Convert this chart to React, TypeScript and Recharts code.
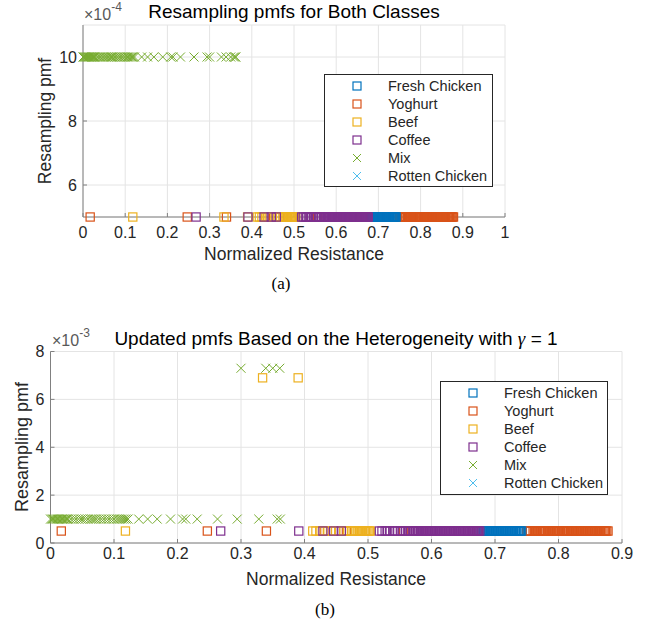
import React from 'react'
import { ScatterChart, Scatter, XAxis, YAxis, CartesianGrid } from 'recharts'

const FONT = "'Liberation Sans', Arial, Helvetica, sans-serif"
const SERIF = "'Liberation Serif', 'Times New Roman', serif"

const BLUE = '#0072BD'
const ORANGE = '#D95319'
const YELLOW = '#EDB120'
const PURPLE = '#7E2F8E'
const GREEN = '#77AC30'
const CYAN = '#4DBEEE'

// normalized resistance of the samples of each class
const freshChickenX = [
  0.678, 0.680, 0.682, 0.684, 0.686, 0.688, 0.690, 0.692, 0.694, 0.696, 0.698, 0.700,
  0.702, 0.704, 0.706, 0.708, 0.710, 0.712, 0.714, 0.716, 0.718, 0.720, 0.722, 0.724,
  0.726, 0.728, 0.730, 0.732, 0.734, 0.736, 0.738, 0.740, 0.742,
]
const yoghurtX = [
  0.017, 0.247, 0.340, 0.432, 0.466, 0.556,
  0.750, 0.752, 0.754, 0.756, 0.760, 0.762, 0.764, 0.766, 0.770, 0.772, 0.774, 0.776,
  0.778, 0.780, 0.782, 0.784, 0.786, 0.788, 0.790, 0.792, 0.794, 0.796, 0.798, 0.800,
  0.802, 0.806, 0.808, 0.810, 0.812, 0.814, 0.816, 0.818, 0.820, 0.822, 0.824, 0.826,
  0.828, 0.830, 0.832, 0.834, 0.836, 0.838, 0.840, 0.842, 0.844, 0.846, 0.848, 0.850,
  0.852, 0.854, 0.856, 0.858, 0.860, 0.862, 0.864, 0.866, 0.868, 0.870, 0.872, 0.874,
  0.876, 0.878,
]
const beefX = [
  0.118, 0.413, 0.418, 0.424, 0.436, 0.441, 0.449, 0.455, 0.462, 0.468, 0.474, 0.478,
  0.481, 0.484, 0.486, 0.488, 0.490, 0.492, 0.494, 0.496, 0.498, 0.500, 0.502, 0.504,
]
const coffeeX = [
  0.268, 0.391, 0.429, 0.446, 0.458,
  0.518, 0.522, 0.527, 0.530, 0.534, 0.539, 0.542, 0.546, 0.551, 0.554, 0.559, 0.562, 0.566,
  0.570, 0.572, 0.574, 0.576, 0.578, 0.580, 0.582, 0.584, 0.586, 0.588, 0.590, 0.592,
  0.594, 0.596, 0.598, 0.600, 0.602, 0.604, 0.606, 0.608, 0.610, 0.612, 0.614, 0.616,
  0.618, 0.620, 0.622, 0.624, 0.626, 0.628, 0.630, 0.632, 0.634, 0.636, 0.638, 0.640,
  0.642, 0.644, 0.646, 0.648, 0.650, 0.652, 0.654, 0.656, 0.658, 0.660, 0.662, 0.664,
  0.666, 0.668, 0.670, 0.672, 0.674, 0.676,
]
const mixX = [
  0, 0.002, 0.004, 0.006, 0.008, 0.010, 0.012, 0.014, 0.016, 0.018, 0.020, 0.022, 0.024,
  0.026, 0.028, 0.032, 0.036, 0.040, 0.044, 0.048, 0.051, 0.055, 0.059, 0.063, 0.066,
  0.069, 0.072, 0.076, 0.080, 0.084, 0.088, 0.092, 0.096, 0.100, 0.104, 0.107, 0.110,
  0.113, 0.116, 0.119, 0.122, 0.139, 0.153, 0.168, 0.189, 0.208, 0.213, 0.231, 0.263,
  0.294, 0.328, 0.357, 0.362,
]
const rottenChickenX: number[] = []

// samples whose pmf is raised by the heterogeneity update in (b)
const mixHighX = [0.300, 0.339, 0.350, 0.361]
const beefHighX = [0.334, 0.390]

// pmf levels
const pmfSquareA = 0.0005
const pmfMixA = 0.001
const pmfSquareB = 0.0005
const pmfMixB = 0.001
const pmfMixHighB = 0.0073
const pmfBeefHighB = 0.0069

// axes
const xTicksA = [0, 0.1, 0.2, 0.3, 0.4, 0.5, 0.6, 0.7, 0.8, 0.9, 1]
const yTicksA = [0.0006, 0.0008, 0.001]
const xTicksB = [0, 0.1, 0.2, 0.3, 0.4, 0.5, 0.6, 0.7, 0.8, 0.9]
const yTicksB = [0, 0.002, 0.004, 0.006, 0.008]

const legendItems = [
  { name: 'Fresh Chicken', color: BLUE, mark: 'square' },
  { name: 'Yoghurt', color: ORANGE, mark: 'square' },
  { name: 'Beef', color: YELLOW, mark: 'square' },
  { name: 'Coffee', color: PURPLE, mark: 'square' },
  { name: 'Mix', color: GREEN, mark: 'cross' },
  { name: 'Rotten Chicken', color: CYAN, mark: 'cross' },
]

type Pt = { x: number; y: number }
const at = (xs: number[], y: number): Pt[] => xs.map((x) => ({ x, y }))

function SquareMark({ cx, cy, color, size = 8.2 }: { cx: number; cy: number; color: string; size?: number }) {
  const h = size / 2
  return <rect x={cx - h} y={cy - h} width={size} height={size} fill="none" stroke={color} strokeWidth={1.2} />
}

function CrossMark({ cx, cy, color, size = 9 }: { cx: number; cy: number; color: string; size?: number }) {
  const h = size / 2
  return (
    <path
      d={`M${cx - h},${cy - h}L${cx + h},${cy + h}M${cx - h},${cy + h}L${cx + h},${cy - h}`}
      stroke={color}
      strokeWidth={1}
      fill="none"
    />
  )
}

interface SeriesDef {
  name: string
  color: string
  mark: string
  data: Pt[]
}

interface PanelProps {
  height: number
  margin: { top: number; right: number; bottom: number; left: number }
  yAxisWidth: number
  xDomain: [number, number]
  xTicks: number[]
  yDomain: [number, number]
  yTicks: number[]
  yScale: number
  xTickMargin: number
  series: SeriesDef[]
}

const axisColor = '#808080'
const tickStyle = { fontSize: 16, fill: '#262626', fontFamily: FONT }

function Panel(p: PanelProps) {
  return (
    <ScatterChart width={662} height={p.height} margin={p.margin}>
      <CartesianGrid stroke="#e4e4e4" />
      <XAxis
        type="number"
        dataKey="x"
        domain={p.xDomain}
        ticks={p.xTicks}
        height={83}
        tick={tickStyle}
        tickFormatter={(v: number) => String(Math.round(v * 10) / 10)}
        axisLine={{ stroke: axisColor }}
        tickLine={{ stroke: axisColor }}
        tickSize={-4}
        tickMargin={p.xTickMargin}
      />
      <YAxis
        type="number"
        dataKey="y"
        domain={p.yDomain}
        ticks={p.yTicks}
        width={p.yAxisWidth}
        tick={tickStyle}
        tickFormatter={(v: number) => String(Math.round(v * p.yScale))}
        axisLine={{ stroke: axisColor }}
        tickLine={{ stroke: axisColor }}
        tickSize={-4}
        tickMargin={10}
      />
      {p.series.map((s, i) => (
        <Scatter
          key={s.name + i}
          name={s.name}
          data={s.data}
          fill={s.color}
          isAnimationActive={false}
          shape={(props: any) =>
            s.mark === 'square' ? (
              <SquareMark cx={props.cx} cy={props.cy} color={s.color} />
            ) : (
              <CrossMark cx={props.cx} cy={props.cy} color={s.color} />
            )
          }
        />
      ))}
    </ScatterChart>
  )
}

// drawing order: yoghurt under fresh chicken, coffee on top of both
const seriesA: SeriesDef[] = [
  { name: 'Yoghurt', color: ORANGE, mark: 'square', data: at(yoghurtX, pmfSquareA) },
  { name: 'Fresh Chicken', color: BLUE, mark: 'square', data: at(freshChickenX, pmfSquareA) },
  { name: 'Beef', color: YELLOW, mark: 'square', data: at([...beefX, ...beefHighX], pmfSquareA) },
  { name: 'Coffee', color: PURPLE, mark: 'square', data: at(coffeeX, pmfSquareA) },
  { name: 'Mix', color: GREEN, mark: 'cross', data: at([...mixX, ...mixHighX], pmfMixA) },
  { name: 'Rotten Chicken', color: CYAN, mark: 'cross', data: at(rottenChickenX, pmfMixA) },
]

const seriesB: SeriesDef[] = [
  { name: 'Yoghurt', color: ORANGE, mark: 'square', data: at(yoghurtX, pmfSquareB) },
  { name: 'Fresh Chicken', color: BLUE, mark: 'square', data: at(freshChickenX, pmfSquareB) },
  { name: 'Beef', color: YELLOW, mark: 'square', data: [...at(beefX, pmfSquareB), ...at(beefHighX, pmfBeefHighB)] },
  { name: 'Coffee', color: PURPLE, mark: 'square', data: at(coffeeX, pmfSquareB) },
  { name: 'Mix', color: GREEN, mark: 'cross', data: [...at(mixX, pmfMixB), ...at(mixHighX, pmfMixHighB)] },
  { name: 'Rotten Chicken', color: CYAN, mark: 'cross', data: at(rottenChickenX, pmfMixB) },
]

function LegendBox({ x, y, w, h, markX, textX }: { x: number; y: number; w: number; h: number; markX: number; textX: number }) {
  return (
    <g>
      <rect x={x} y={y} width={w} height={h} fill="#fff" stroke="#262626" strokeWidth={1} />
      {legendItems.map((it, i) => {
        const cy = y + 11.5 + i * 18
        return (
          <g key={it.name}>
            {it.mark === 'square' ? (
              <SquareMark cx={markX} cy={cy} color={it.color} size={8} />
            ) : (
              <CrossMark cx={markX} cy={cy} color={it.color} size={8} />
            )}
            <text x={textX} y={cy + 5} fontSize={14.5} fill="#262626" fontFamily={FONT}>
              {it.name}
            </text>
          </g>
        )
      })}
    </g>
  )
}

export default function App() {
  return (
    <div style={{ position: 'absolute', left: 0, top: 0, width: 662, height: 626, background: '#fff' }}>
      <div style={{ position: 'absolute', left: 0, top: 0 }}>
        <Panel
          height={300}
          margin={{ top: 25, right: 157, bottom: 0, left: 0 }}
          yAxisWidth={83}
          xDomain={[0, 1]}
          xTicks={xTicksA}
          yDomain={[0.0005, 0.0011]}
          yTicks={yTicksA}
          yScale={1e4}
          xTickMargin={14}
          series={seriesA}
        />
      </div>
      <div style={{ position: 'absolute', left: 0, top: 300 }}>
        <Panel
          height={326}
          margin={{ top: 51.5, right: 40, bottom: 0, left: 0 }}
          yAxisWidth={50.5}
          xDomain={[0, 0.9]}
          xTicks={xTicksB}
          yDomain={[0, 0.008]}
          yTicks={yTicksB}
          yScale={1e3}
          xTickMargin={9}
          series={seriesB}
        />
      </div>
      <svg width={662} height={626} style={{ position: 'absolute', left: 0, top: 0, pointerEvents: 'none' }}>
        {/* panel (a) */}
        <text x={294} y={18} textAnchor="middle" fontSize={19} fill="#000" fontFamily={FONT}>
          Resampling pmfs for Both Classes
        </text>
        <text x={84} y={20} fontSize={16} fill="#595959" fontFamily={FONT}>
          ×10<tspan dy={-9} fontSize={12}>-4</tspan>
        </text>
        <text transform="translate(51,121) rotate(-90)" textAnchor="middle" fontSize={17.5} fill="#262626" fontFamily={FONT}>
          Resampling pmf
        </text>
        <text x={294} y={260} textAnchor="middle" fontSize={17.5} fill="#262626" fontFamily={FONT}>
          Normalized Resistance
        </text>
        <LegendBox x={324.5} y={74.5} w={168} h={112} markX={357} textX={388} />
        <text x={281} y={289} textAnchor="middle" fontSize={17} fill="#000" fontFamily={SERIF}>
          (a)
        </text>

        {/* panel (b) */}
        <text x={336} y={345} textAnchor="middle" fontSize={19} fill="#000" fontFamily={FONT}>
          Updated pmfs Based on the Heterogeneity with <tspan fontFamily={SERIF} fontStyle="italic">γ</tspan> = 1
        </text>
        <text x={52} y={346} fontSize={16} fill="#595959" fontFamily={FONT}>
          ×10<tspan dy={-9} fontSize={12}>-3</tspan>
        </text>
        <text transform="translate(28,447) rotate(-90)" textAnchor="middle" fontSize={18} fill="#262626" fontFamily={FONT}>
          Resampling pmf
        </text>
        <text x={336} y={585} textAnchor="middle" fontSize={17.5} fill="#262626" fontFamily={FONT}>
          Normalized Resistance
        </text>
        <LegendBox x={440.5} y={381.5} w={167} h={113} markX={473} textX={504} />
        <text x={325} y={615} textAnchor="middle" fontSize={17} fill="#000" fontFamily={SERIF}>
          (b)
        </text>
      </svg>
    </div>
  )
}
